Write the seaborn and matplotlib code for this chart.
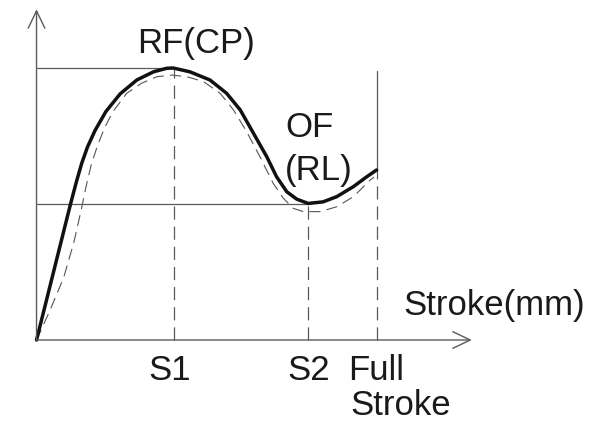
import matplotlib
matplotlib.use("Agg")
import matplotlib.pyplot as plt
import seaborn as sns
import pandas as pd

# stroke positions (arbitrary mm units) and force levels
s1 = 4.04
s2 = 7.99
full_stroke = 10.0
rf_level = 10.0
of_level = 5.0
end_level = 6.25

# thick solid curve
solid_x = [0.0, 0.5, 1.0, 1.18, 1.33, 1.5, 1.72, 2.04, 2.46, 2.95, 3.44, 3.83,
           4.02, 4.51, 5.10, 5.59, 5.99, 6.38, 6.77, 7.06, 7.36, 7.65, 7.99, 8.43, 8.83,
           9.32, 9.71, 10.0]
solid_y = [0.0, 2.5, 5.0, 5.85, 6.5, 7.1, 7.7, 8.4, 9.05, 9.56, 9.86, 9.99,
           10.0, 9.86, 9.56, 9.07, 8.46, 7.60, 6.74, 6.0, 5.45, 5.18, 5.02, 5.08, 5.27,
           5.64, 6.0, 6.25]

# thin dashed curve
dash_x = [0.0, 0.4, 0.8, 1.1, 1.3, 1.45, 1.6, 1.78, 2.0, 2.25, 2.65, 3.09, 3.54,
          3.98, 4.42, 4.91, 5.40, 5.79, 6.18, 6.57, 6.96, 7.26, 7.55, 7.85, 8.34, 8.83,
          9.32, 9.81, 9.93]
dash_y = [0.0, 1.1, 2.3, 3.6, 4.7, 5.6, 6.4, 7.1, 7.8, 8.4, 9.07, 9.44, 9.68,
          9.74, 9.68, 9.50, 9.07, 8.46, 7.66, 6.74, 5.76, 5.21, 4.84, 4.72, 4.72, 4.90,
          5.27, 5.88, 5.99]

solid_df = pd.DataFrame({"stroke": solid_x, "force": solid_y})
dash_df = pd.DataFrame({"stroke": dash_x, "force": dash_y})

sns.set_style("white")
plt.rcParams["font.family"] = ["Liberation Sans", "DejaVu Sans"]
plt.rcParams["lines.scale_dashes"] = False

fig = plt.figure(figsize=(6.01, 4.24), dpi=100)
ax = fig.add_axes([0, 0, 1, 1])
ax.set_xlim(-1.074, 16.60)
ax.set_ylim(-3.088, 12.5)
ax.axis("off")

grey = "#5a5a5a"
dash = (0, (9.5, 5))

# guide lines
ax.plot([0, s1], [rf_level, rf_level], color=grey, lw=0.9)
ax.plot([0, s2], [of_level, of_level], color=grey, lw=0.9)
ax.plot([s1, s1], [0, rf_level], color=grey, lw=0.9, linestyle=dash)
ax.plot([s2, s2], [0, of_level], color=grey, lw=0.9, linestyle=dash)
ax.plot([full_stroke, full_stroke], [end_level, 9.9], color=grey, lw=0.9)
ax.plot([full_stroke, full_stroke], [0, end_level], color=grey, lw=0.9, linestyle=dash)

# curves
sns.lineplot(data=dash_df, x="stroke", y="force", ax=ax, sort=False, estimator=None,
             color="#555555", lw=0.8, linestyle=(0, (8, 4.5)))
sns.lineplot(data=solid_df, x="stroke", y="force", ax=ax, sort=False, estimator=None,
             color="#111111", lw=2.5)

# axes with open arrow heads
arrow = dict(arrowstyle="->,head_length=1.25,head_width=0.6", color=grey, lw=1.0,
             shrinkA=0, shrinkB=0, mutation_scale=10)
ax.annotate("", xy=(12.8, 0), xytext=(0, 0), arrowprops=arrow)
ax.annotate("", xy=(0, 12.16), xytext=(0, 0), arrowprops=arrow)

fs = 25
ink = "#1a1a1a"
ax.text(4.68, 10.55, "RF(CP)", fontsize=fs, ha="center", va="baseline", color=ink)
ax.text(7.31, 7.46, "OF", fontsize=fs, ha="left", va="baseline", color=ink)
ax.text(7.31, 5.88, "(RL)", fontsize=fs, ha="left", va="baseline", color=ink)
ax.text(13.46, 0.92, "Stroke(mm)", fontsize=fs, ha="center", va="baseline", color=ink)
ax.text(3.93, -1.47, "S1", fontsize=fs, ha="center", va="baseline", color=ink)
ax.text(s2, -1.47, "S2", fontsize=fs, ha="center", va="baseline", color=ink)
ax.text(9.16, -1.47, "Full", fontsize=fs, ha="left", va="baseline", color=ink)
ax.text(9.22, -2.76, "Stroke", fontsize=fs, ha="left", va="baseline", color=ink)

fig.savefig("out.png", dpi=100, facecolor="white")
